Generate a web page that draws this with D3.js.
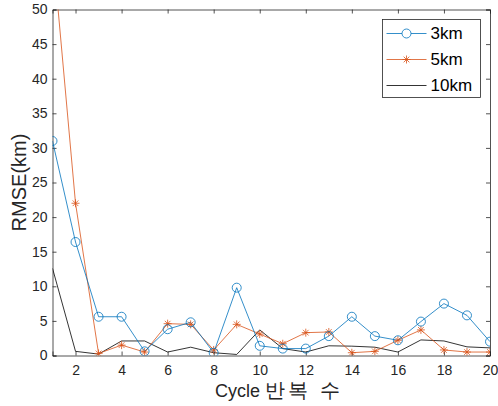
<!DOCTYPE html>
<html>
<head>
    <meta charset="utf-8">
    <script src="https://d3js.org/d3.v7.min.js"></script>
</head>
<body style="margin: 0; background: #fff">
    <svg id="chart"></svg>
    <script>
        // data
        var cycles = d3.range(1, 21);
        var rmse3 = [31, 16.4, 5.6, 5.6, 0.6, 3.8, 4.8, 0.4, 9.8, 1.4, 1.0, 1.0, 2.8, 5.6, 2.8, 2.2, 4.9, 7.5, 5.8, 2.0];
        var rmse5 = [59, 22, 0.3, 1.5, 0.5, 4.6, 4.5, 0.8, 4.5, 3.1, 1.7, 3.3, 3.4, 0.4, 0.6, 2.2, 3.7, 0.8, 0.5, 0.5];
        var rmse10 = [12.6, 0.6, 0.2, 2.1, 2.1, 0.5, 1.2, 0.4, 0.15, 3.7, 1.0, 0.5, 1.4, 1.35, 1.2, 0.5, 2.25, 2.1, 1.25, 1.1];
        var seriesNames = ["3km", "5km", "10km"];
        var xTicks = [2, 4, 6, 8, 10, 12, 14, 16, 18, 20];
        var yTicks = [0, 5, 10, 15, 20, 25, 30, 35, 40, 45, 50];

        var W = 498, H = 406;
        var margin = { top: 9.5, right: 8, bottom: 50.5, left: 52.5 };
        var width = W - margin.left - margin.right,
            height = H - margin.top - margin.bottom;
        var axisCol = "#262626";

        var svg = d3.select("#chart").attr("width", W).attr("height", H)
            .style("font-family", "'Liberation Sans', Arial, sans-serif");
        var g = svg.append("g").attr("transform", "translate(" + margin.left + "," + margin.top + ")");

        var x = d3.scaleLinear().domain([1, 20]).range([0, width]);
        var y = d3.scaleLinear().domain([0, 50]).range([height, 0]);

        g.append("defs").append("clipPath").attr("id", "clip")
            .append("rect").attr("width", width).attr("height", height);

        // axes, ticks pointing inward like matlab
        var ax = [
            [d3.axisBottom(x).tickValues(xTicks).tickSize(-4).tickPadding(10), "translate(0," + height + ")", true],
            [d3.axisTop(x).tickValues(xTicks).tickSize(-4), "translate(0,0)", false],
            [d3.axisLeft(y).tickValues(yTicks).tickSize(-4).tickPadding(5), "translate(0,0)", true],
            [d3.axisRight(y).tickValues(yTicks).tickSize(-4), "translate(" + width + ",0)", false]
        ];
        ax.forEach(function (a) {
            var sel = g.append("g").attr("transform", a[1]).call(a[0]);
            sel.select(".domain").attr("stroke", axisCol).attr("stroke-width", 0.8);
            sel.selectAll(".tick line").attr("stroke", axisCol).attr("stroke-width", 0.8);
            sel.selectAll("text").attr("fill", axisCol).style("font-size", "14px");
            if (!a[2]) sel.selectAll("text").remove();
        });

        var line = d3.line().x(function (d, i) { return x(cycles[i]); }).y(function (d) { return y(d); });
        var plot = g.append("g").attr("clip-path", "url(#clip)");

        plot.append("path").datum(rmse10).attr("d", line).attr("fill", "none")
            .attr("stroke", "#000").attr("stroke-width", 0.8);
        plot.append("path").datum(rmse5).attr("d", line).attr("fill", "none")
            .attr("stroke", "#D95319").attr("stroke-width", 0.8);
        plot.append("path").datum(rmse3).attr("d", line).attr("fill", "none")
            .attr("stroke", "#0072BD").attr("stroke-width", 0.8);

        // star marker
        function star(s, cx, cy) {
            var r = 4;
            var p = "";
            [0, 45, 90, 135].forEach(function (a) {
                var t = a * Math.PI / 180;
                p += "M" + (cx - r * Math.cos(t)) + "," + (cy - r * Math.sin(t)) +
                    "L" + (cx + r * Math.cos(t)) + "," + (cy + r * Math.sin(t));
            });
            s.append("path").attr("d", p).attr("stroke", "#D95319").attr("stroke-width", 0.8).attr("fill", "none");
        }

        var m5 = plot.append("g");
        rmse5.forEach(function (v, i) { star(m5, x(cycles[i]), y(v)); });

        plot.append("g").selectAll("circle").data(rmse3).join("circle")
            .attr("cx", function (d, i) { return x(cycles[i]); })
            .attr("cy", function (d) { return y(d); })
            .attr("r", 4.5).attr("fill", "none")
            .attr("stroke", "#0072BD").attr("stroke-width", 0.8);

        // labels
        var xl = svg.append("text").attr("x", 215).attr("y", 397)
            .attr("fill", axisCol).style("font-size", "18px");
        xl.append("tspan").text("Cycle ");
        xl.append("tspan").style("font-size", "20px").attr("letter-spacing", "3px")
            .text("반복 수");
        svg.append("text").attr("transform", "translate(26," + (margin.top + height / 2) + ") rotate(-90)")
            .attr("text-anchor", "middle").attr("fill", axisCol).style("font-size", "20px")
            .text("RMSE(km)");

        // legend
        var leg = svg.append("g").attr("transform", "translate(382.5,19.5)");
        leg.append("rect").attr("width", 98).attr("height", 78)
            .attr("fill", "#fff").attr("stroke", axisCol).attr("stroke-width", 0.8);
        var cols = ["#0072BD", "#D95319", "#000"];
        seriesNames.forEach(function (n, i) {
            var yy = 14 + i * 26;
            leg.append("line").attr("x1", 4).attr("x2", 44).attr("y1", yy).attr("y2", yy)
                .attr("stroke", cols[i]).attr("stroke-width", 0.8);
            if (i === 0) leg.append("circle").attr("cx", 24).attr("cy", yy).attr("r", 4.5)
                .attr("fill", "#fff").attr("stroke", cols[i]).attr("stroke-width", 0.8);
            if (i === 1) star(leg, 24, yy);
            leg.append("text").attr("x", 48).attr("y", yy).attr("dy", "0.35em")
                .attr("fill", "#000").style("font-size", "17px").text(n);
        });
    </script>
</body>
</html>
